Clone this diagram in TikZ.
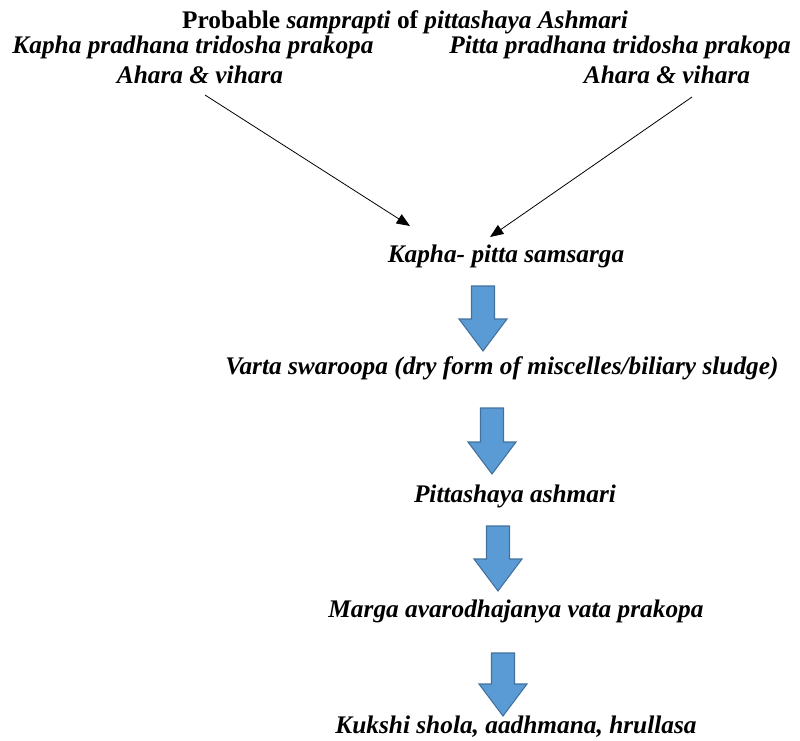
\documentclass[tikz,border=0pt]{standalone}
\usepackage{fontspec}
\setmainfont{Liberation Serif}
\usepackage{tikz}
\usetikzlibrary{shapes,arrows.meta}
\definecolor{arrowblue}{HTML}{5B9BD5}
\definecolor{arrowedge}{HTML}{41719C}

\begin{document}
\begin{tikzpicture}[x=0.75pt,y=-0.75pt]
\tikzstyle{every node}=[font=\fontsize{19}{22}\selectfont\bfseries\itshape, anchor=base, inner sep=0pt]
\tikzstyle{thinarrow}=[-{Triangle[length=10pt,width=8pt]}, line width=0.6pt]
\tikzstyle{bluearrow}=[fill=arrowblue, draw=arrowedge, line width=0.8pt]
\useasboundingbox (0,0) rectangle (800,740);
\node (title) at (405,28) {\upshape Probable \itshape samprapti \upshape of \itshape pittashaya Ashmari};
\node (kapha) at (193,53) {Kapha pradhana tridosha prakopa};
\node (kahara) at (200,83) {Ahara \& vihara};
\node (pitta) at (620,53) {Pitta pradhana tridosha prakopa};
\node (pahara) at (667,83) {Ahara \& vihara};
\node (samsarga) at (506,262) {Kapha- pitta samsarga};
\node (varta) at (502,374) {Varta swaroopa (dry form of miscelles/biliary sludge)};
\node (ashmari) at (515,502) {Pittashaya ashmari};
\node (marga) at (516,617) {Marga avarodhajanya vata prakopa};
\node (kukshi) at (516,733) {Kukshi shola, aadhmana, hrullasa};
\coordinate (kfrom) at (205,95);
\coordinate (kto) at (410,226);
\coordinate (pfrom) at (692,97);
\coordinate (pto) at (490,237);
\draw[thinarrow] (kfrom) -- (kto);
\draw[thinarrow] (pfrom) -- (pto);
\draw[bluearrow] (471.5,286) -- ++(23,0) -- ++(0,33) -- ++(12.5,0) -- ++(-24,32) -- ++(-24,-32) -- ++(12.5,0) -- cycle;
\draw[bluearrow] (480.5,408) -- ++(23,0) -- ++(0,34) -- ++(12.5,0) -- ++(-24,32) -- ++(-24,-32) -- ++(12.5,0) -- cycle;
\draw[bluearrow] (486.5,526) -- ++(23,0) -- ++(0,33) -- ++(12.5,0) -- ++(-24,32) -- ++(-24,-32) -- ++(12.5,0) -- cycle;
\draw[bluearrow] (491.5,653) -- ++(23,0) -- ++(0,31) -- ++(12.5,0) -- ++(-24,32) -- ++(-24,-32) -- ++(12.5,0) -- cycle;
\end{tikzpicture}
\end{document}
